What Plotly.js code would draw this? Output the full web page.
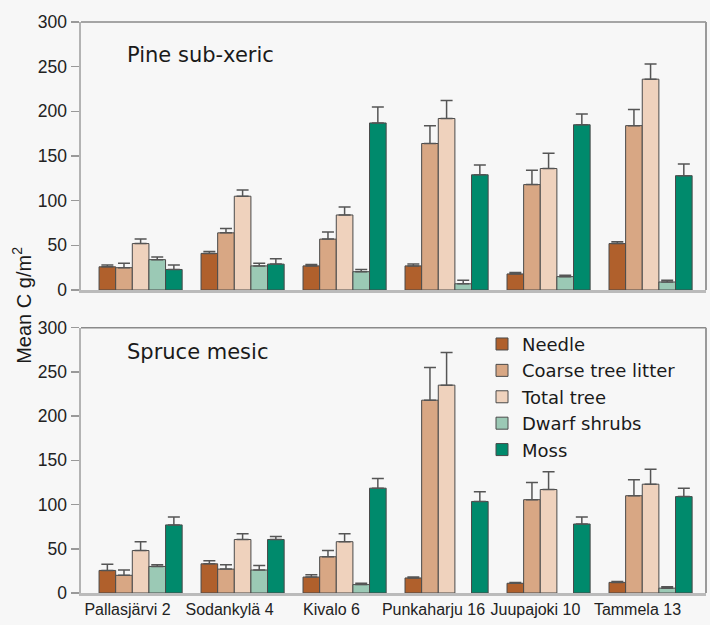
<!DOCTYPE html>
<html>
<head>
<meta charset="utf-8">
<script src="https://cdn.plot.ly/plotly-3.0.1.min.js"></script>
<style>html,body{margin:0;padding:0;background:#f7f7f7;}</style>
</head>
<body>
<div id="chart" style="width:710px;height:625px;"></div>
<script>
// ---- Data ----
const sites = ["Pallasjärvi 2", "Sodankylä 4", "Kivalo 6", "Punkaharju 16", "Juupajoki 10", "Tammela 13"];
const seriesNames = ["Needle", "Coarse tree litter", "Total tree", "Dwarf shrubs", "Moss"];

// Pine sub-xeric: means
const pineNeedle = [26, 41, 27, 27, 18, 52];
const pineCoarse = [25, 64, 57, 164, 118, 184];
const pineTotal  = [52, 105, 84, 192, 136, 236];
const pineDwarf  = [34, 27, 20.5, 7, 15, 9];
const pineMoss   = [23, 29, 187, 129, 185, 128];
// Pine sub-xeric: standard errors
const pineNeedleSE = [2, 2, 1.5, 2, 1.5, 2];
const pineCoarseSE = [5, 5, 8, 20, 16, 18];
const pineTotalSE  = [5, 7, 9, 20, 17, 17];
const pineDwarfSE  = [3, 3, 2.5, 4, 1.5, 2];
const pineMossSE   = [5, 6, 18, 11, 12, 13];

// Spruce mesic: means
const spruceNeedle = [25.5, 33, 18, 17, 11, 12];
const spruceCoarse = [20, 27, 41, 218, 105.5, 110];
const spruceTotal  = [48, 60.5, 58, 235, 117, 123];
const spruceDwarf  = [30, 26, 9.5, null, null, 5.5];
const spruceMoss   = [77, 60.5, 118.5, 103.5, 78, 109];
// Spruce mesic: standard errors
const spruceNeedleSE = [7, 3.5, 2.5, 1, 1, 1];
const spruceCoarseSE = [6, 5, 7, 37, 19.5, 18];
const spruceTotalSE  = [10, 6.5, 9, 37, 20, 17];
const spruceDwarfSE  = [2, 5, 1.5, 0, 0, 1.5];
const spruceMossSE   = [9, 3.5, 11, 11, 8, 9.5];

const yTicks = [0, 50, 100, 150, 200, 250, 300];

// ---- Styles ----
const colors = ["#b0602c", "#d8a784", "#efd2bd", "#9bc9b5", "#008a6c"];
const barW = 0.163;
const firstOffset = -0.279;

const pineData = [pineNeedle, pineCoarse, pineTotal, pineDwarf, pineMoss];
const pineSE = [pineNeedleSE, pineCoarseSE, pineTotalSE, pineDwarfSE, pineMossSE];
const spruceData = [spruceNeedle, spruceCoarse, spruceTotal, spruceDwarf, spruceMoss];
const spruceSE = [spruceNeedleSE, spruceCoarseSE, spruceTotalSE, spruceDwarfSE, spruceMossSE];

function makeTrace(vals, se, i, xa, ya, showLegend) {
  return {
    type: "bar",
    x: sites,
    y: vals,
    name: seriesNames[i],
    xaxis: xa,
    yaxis: ya,
    width: barW,
    offset: firstOffset + i * barW,
    showlegend: showLegend,
    legendgroup: seriesNames[i],
    marker: {color: colors[i], line: {color: "#4a4a4a", width: 1}},
    error_y: {
      type: "data", symmetric: false, array: se,
      arrayminus: se.map(() => 0),
      color: "#555", thickness: 1.5, width: 6
    },
    hoverinfo: "x+y+name"
  };
}

const traces = [];
for (let i = 0; i < 5; i++) traces.push(makeTrace(pineData[i], pineSE[i], i, "x", "y", false));
for (let i = 0; i < 5; i++) traces.push(makeTrace(spruceData[i], spruceSE[i], i, "x2", "y2", true));

const yTickFont = {family: "Arial", size: 17.5, color: "#222"};
const xTickFont = {family: "Arial", size: 16, color: "#222"};
const xRange = [-0.456, 5.672];

function yAxis(domain, anchor) {
  return {
    domain: domain, anchor: anchor, range: [0, 300],
    tickvals: yTicks, ticktext: yTicks.map(String),
    ticks: "outside", ticklen: 8, tickwidth: 1.5, tickcolor: "#999",
    showline: true, linecolor: "#b3b3b3", linewidth: 2.5,
    showgrid: false, zeroline: false, tickfont: yTickFont, fixedrange: true
  };
}
function xAxis(anchor, showLabels) {
  return {
    anchor: anchor, type: "category", range: xRange,
    showticklabels: showLabels, ticks: "", tickangle: 0, showline: true,
    linecolor: "#bbbbbb", linewidth: 2.5, showgrid: false, zeroline: false,
    tickfont: xTickFont, fixedrange: true
  };
}

function frame(xr, yr) {
  return [
    {type: "line", xref: xr + " domain", yref: yr + " domain", x0: 0, x1: 1, y0: 1, y1: 1,
     line: {color: "#8a8a8a", width: 1.5}},
    {type: "line", xref: xr + " domain", yref: yr + " domain", x0: 1, x1: 1, y0: 0, y1: 1,
     line: {color: "#9a9a9a", width: 2}}
  ];
}

const titleFont = {family: "DejaVu Sans", size: 21, color: "#1a1a1a"};

const layout = {
  width: 710, height: 625,
  margin: {l: 81, r: 4, t: 22, b: 32, pad: 0},
  paper_bgcolor: "#f7f7f7", plot_bgcolor: "#f7f7f7",
  barmode: "overlay",
  xaxis: xAxis("y", false),
  yaxis: yAxis([0.5306, 1], "x"),
  xaxis2: xAxis("y2", true),
  yaxis2: yAxis([0, 0.4647], "x2"),
  shapes: frame("x", "y").concat(frame("x2", "y2")),
  legend: {
    x: 0.6416, y: 0.468, xanchor: "left", yanchor: "top",
    bgcolor: "rgba(0,0,0,0)", borderwidth: 0,
    font: {family: "DejaVu Sans", size: 18, color: "#1a1a1a"},
    traceorder: "normal"
  },
  annotations: [
    {text: "Pine sub-xeric", xref: "paper", yref: "paper", x: 0.0704, y: 0.942,
     xanchor: "left", yanchor: "middle", showarrow: false, font: titleFont},
    {text: "Spruce mesic", xref: "paper", yref: "paper", x: 0.0704, y: 0.422,
     xanchor: "left", yanchor: "middle", showarrow: false, font: titleFont},
    {text: "Mean C g/m<sup>2</sup>", xref: "paper", yref: "paper", x: -0.0944, y: 0.503,
     xanchor: "center", yanchor: "middle", textangle: -90, showarrow: false,
     font: {family: "Arial", size: 20, color: "#1a1a1a"}}
  ],
  showlegend: true
};

Plotly.newPlot("chart", traces, layout, {displayModeBar: false, staticPlot: true});
</script>
</body>
</html>
